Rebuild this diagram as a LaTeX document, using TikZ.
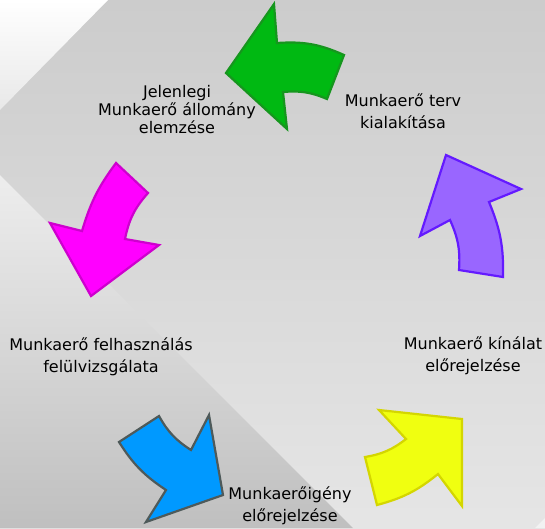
\documentclass[tikz,border=0pt]{standalone}
\usepackage{fontspec}
\setmainfont{DejaVu Sans}
\begin{document}
\begin{tikzpicture}[x=1pt,y=-1pt,
  lbl/.style={align=center,inner sep=0pt,text=black,
    font=\fontsize{16}{22}\selectfont},
  arrowshape/.style={line width=2.2pt,line join=miter},
  outerbend/.style={bend left=#1},
  innerbend/.style={bend right=#1}]
\definecolor{grnfill}{RGB}{0,185,18}
\definecolor{grnline}{RGB}{22,150,30}
\definecolor{purfill}{RGB}{153,102,255}
\definecolor{purline}{RGB}{100,26,255}
\definecolor{yelfill}{RGB}{240,255,16}
\definecolor{yelline}{RGB}{212,214,0}
\definecolor{blufill}{RGB}{0,153,255}
\definecolor{bluline}{RGB}{78,90,90}
\definecolor{magfill}{RGB}{255,0,255}
\definecolor{magline}{RGB}{206,0,206}

\useasboundingbox (0,0) rectangle (545,528);

% background panels
\shade[top color=black!20,bottom color=black!10] (0,0) rectangle (545,528);
\shade[top color=white,bottom color=black!9] (0,0) -- (108,0) -- (0,110) -- cycle;
\shade[top color=black!7,bottom color=black!25] (0,175) -- (353,528) -- (0,528) -- cycle;
\fill[black!5] (535,528) -- (545,518) -- (545,528) -- cycle;

% green arrow (top, pointing left)
\draw[arrowshape,fill=grnfill,draw=grnline]
  (226,73) -- (274,4) -- (277,43) to[outerbend=14] (344,55)
  -- (327,99) to[innerbend=14] (283,92) -- (287,129) -- cycle;

% purple arrow (right, pointing up)
\draw[arrowshape,fill=purfill,draw=purline]
  (446,155) -- (521,189) -- (489,202) to[outerbend=12] (503,277)
  -- (459,270) to[innerbend=14] (450,220) -- (420,236) -- cycle;

% yellow arrow (bottom right, pointing up-right)
\draw[arrowshape,fill=yelfill,draw=yelline]
  (462,419) -- (462,506) -- (438,474) to[outerbend=12] (377,505)
  -- (365,457) to[innerbend=14] (406,439) -- (379,410) -- cycle;

% blue arrow (bottom left, pointing down-right)
\draw[arrowshape,fill=blufill,draw=bluline]
  (223,495) -- (146,522) -- (166,490) to[outerbend=12] (119,442)
  -- (159,416) to[innerbend=14] (191,450) -- (209,415) -- cycle;

% magenta arrow (left, pointing down)
\draw[arrowshape,fill=magfill,draw=magline]
  (91,296) -- (50,223) -- (82,231) to[outerbend=10] (116,163)
  -- (148,193) to[innerbend=15] (125,239) -- (159,245) -- cycle;

% step labels
\node[lbl,font=\fontsize{16}{18}\selectfont] (current) at (177,109.5)
  {Jelenlegi\\Munkaerő állomány\\elemzése};
\node[lbl] (plan) at (403,111.5) {Munkaerő terv\\kialakítása};
\node[lbl] (supply) at (473,355.5) {Munkaerő kínálat\\előrejelzése};
\node[lbl] (demand) at (290,506) {Munkaerőigény\\előrejelzése};
\node[lbl] (review) at (101,357) {Munkaerő felhasználás\\felülvizsgálata};
\end{tikzpicture}
\end{document}
